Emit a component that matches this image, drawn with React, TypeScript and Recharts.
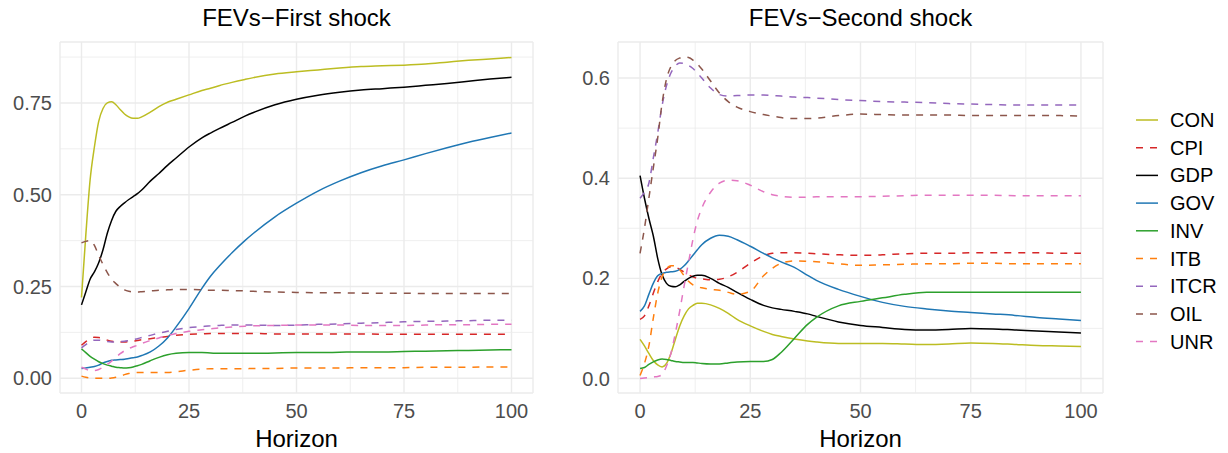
import React from "react";
import { LineChart, Line, XAxis, YAxis, CartesianGrid, ReferenceLine, Label } from "recharts";

const horizon = [0, 1, 2, 3, 4, 5, 6, 7, 8, 9, 10, 11, 12, 13, 14, 16, 18, 20, 22, 25, 28, 30, 32, 35, 38, 40, 45, 50, 55, 60, 65, 70, 75, 80, 85, 90, 95, 100];

const seriesNames = ["CON", "CPI", "GDP", "GOV", "INV", "ITB", "ITCR", "OIL", "UNR"];

// first shock
const con1 = [0.22, 0.39, 0.54, 0.63, 0.7, 0.735, 0.75, 0.753, 0.745, 0.732, 0.72, 0.712, 0.708, 0.708, 0.712, 0.725, 0.74, 0.752, 0.76, 0.772, 0.784, 0.79, 0.797, 0.806, 0.814, 0.819, 0.829, 0.835, 0.84, 0.845, 0.849, 0.851, 0.853, 0.856, 0.861, 0.866, 0.87, 0.874];
const cpi1 = [0.09, 0.1, 0.108, 0.112, 0.111, 0.108, 0.104, 0.101, 0.1, 0.099, 0.099, 0.1, 0.101, 0.103, 0.105, 0.108, 0.111, 0.114, 0.117, 0.12, 0.121, 0.122, 0.122, 0.122, 0.122, 0.122, 0.121, 0.121, 0.121, 0.121, 0.121, 0.12, 0.12, 0.12, 0.12, 0.12, 0.12, 0.12];
const gdp1 = [0.2, 0.235, 0.27, 0.29, 0.315, 0.35, 0.395, 0.43, 0.455, 0.468, 0.478, 0.487, 0.495, 0.503, 0.513, 0.537, 0.558, 0.58, 0.6, 0.63, 0.655, 0.668, 0.68, 0.697, 0.714, 0.724, 0.745, 0.76, 0.771, 0.779, 0.785, 0.789, 0.793, 0.798, 0.803, 0.809, 0.815, 0.82];
const gov1 = [0.027, 0.028, 0.03, 0.032, 0.036, 0.042, 0.046, 0.049, 0.05, 0.051, 0.052, 0.054, 0.056, 0.058, 0.062, 0.072, 0.088, 0.11, 0.14, 0.19, 0.245, 0.278, 0.305, 0.342, 0.375, 0.395, 0.44, 0.477, 0.51, 0.537, 0.56, 0.579, 0.595, 0.612, 0.628, 0.643, 0.656, 0.668];
const inv1 = [0.08, 0.07, 0.06, 0.052, 0.045, 0.04, 0.036, 0.033, 0.03, 0.029, 0.028, 0.029, 0.031, 0.034, 0.038, 0.048, 0.057, 0.064, 0.068, 0.07, 0.07, 0.069, 0.068, 0.068, 0.068, 0.068, 0.069, 0.07, 0.07, 0.071, 0.072, 0.072, 0.073, 0.074, 0.075, 0.076, 0.077, 0.078];
const itb1 = [0.006, 0.003, 0.001, 0.0, 0.0, 0.0, 0.0, 0.001, 0.003, 0.006, 0.01, 0.013, 0.015, 0.016, 0.016, 0.016, 0.016, 0.016, 0.018, 0.022, 0.025, 0.026, 0.026, 0.026, 0.026, 0.027, 0.027, 0.028, 0.028, 0.028, 0.029, 0.029, 0.029, 0.03, 0.03, 0.03, 0.031, 0.031];
const itcr1 = [0.083, 0.092, 0.1, 0.104, 0.104, 0.102, 0.1, 0.099, 0.099, 0.1, 0.101, 0.103, 0.105, 0.108, 0.111, 0.117, 0.123, 0.128, 0.133, 0.138, 0.141, 0.143, 0.144, 0.145, 0.145, 0.145, 0.144, 0.145, 0.147, 0.148, 0.15, 0.152, 0.154, 0.155, 0.156, 0.157, 0.158, 0.158];
const oil1 = [0.369, 0.373, 0.375, 0.362, 0.335, 0.31, 0.288, 0.27, 0.258, 0.248, 0.241, 0.237, 0.235, 0.235, 0.236, 0.238, 0.24, 0.241, 0.242, 0.242, 0.241, 0.24, 0.24, 0.239, 0.238, 0.237, 0.235, 0.234, 0.233, 0.233, 0.232, 0.232, 0.232, 0.231, 0.231, 0.231, 0.231, 0.231];
const unr1 = [0.03, 0.025, 0.021, 0.021, 0.024, 0.03, 0.038, 0.047, 0.057, 0.067, 0.075, 0.081, 0.086, 0.09, 0.095, 0.103, 0.11, 0.117, 0.122, 0.128, 0.132, 0.135, 0.137, 0.14, 0.142, 0.143, 0.144, 0.145, 0.145, 0.145, 0.144, 0.144, 0.144, 0.145, 0.146, 0.146, 0.147, 0.147];

// second shock
const con2 = [0.078, 0.065, 0.05, 0.036, 0.027, 0.023, 0.03, 0.05, 0.078, 0.105, 0.125, 0.139, 0.146, 0.15, 0.15, 0.147, 0.14, 0.13, 0.118, 0.105, 0.094, 0.088, 0.084, 0.079, 0.075, 0.073, 0.07, 0.07, 0.07, 0.069, 0.068, 0.069, 0.071, 0.07, 0.068, 0.066, 0.065, 0.064];
const cpi2 = [0.118, 0.125, 0.145, 0.17, 0.193, 0.21, 0.219, 0.223, 0.222, 0.218, 0.212, 0.207, 0.203, 0.2, 0.199, 0.197, 0.198, 0.203, 0.212, 0.23, 0.245, 0.25, 0.251, 0.251, 0.25, 0.249, 0.247, 0.246, 0.247, 0.249, 0.25, 0.25, 0.251, 0.251, 0.251, 0.251, 0.25, 0.25];
const gdp2 = [0.405, 0.36, 0.32, 0.285, 0.24, 0.207, 0.19, 0.184, 0.183, 0.187, 0.194, 0.2, 0.204, 0.206, 0.206, 0.2, 0.19, 0.182, 0.172, 0.158, 0.146, 0.141, 0.138, 0.134, 0.129, 0.124, 0.113, 0.106, 0.102, 0.098, 0.097, 0.098, 0.1, 0.099, 0.097, 0.095, 0.093, 0.091];
const gov2 = [0.134, 0.145, 0.168, 0.19, 0.205, 0.21, 0.212, 0.213, 0.214, 0.218, 0.225, 0.235, 0.246, 0.257, 0.267, 0.28, 0.286, 0.284, 0.277, 0.264, 0.25, 0.241, 0.233, 0.222, 0.206, 0.196, 0.178, 0.164, 0.152, 0.144, 0.139, 0.135, 0.132, 0.129, 0.126, 0.122, 0.119, 0.116];
const inv2 = [0.02, 0.022, 0.028, 0.033, 0.037, 0.039, 0.038, 0.036, 0.034, 0.033, 0.032, 0.032, 0.032, 0.031, 0.03, 0.029, 0.029, 0.031, 0.033, 0.034, 0.034, 0.038, 0.052, 0.08, 0.108, 0.122, 0.145, 0.154, 0.161, 0.168, 0.172, 0.172, 0.172, 0.172, 0.172, 0.172, 0.172, 0.172];
const itb2 = [0.006, 0.03, 0.065, 0.12, 0.17, 0.203, 0.219, 0.225, 0.225, 0.217, 0.205, 0.194, 0.187, 0.183, 0.181, 0.178, 0.176, 0.172, 0.168, 0.174, 0.205, 0.22, 0.23, 0.235, 0.234, 0.233, 0.229, 0.226, 0.227, 0.228, 0.229, 0.229, 0.23, 0.23, 0.229, 0.229, 0.229, 0.229];
const itcr2 = [0.36, 0.372, 0.39, 0.44, 0.49, 0.545, 0.585, 0.61, 0.624, 0.63, 0.629, 0.625, 0.619, 0.61, 0.6, 0.58, 0.567, 0.564, 0.565, 0.566, 0.566, 0.565, 0.564, 0.562, 0.561, 0.56, 0.557, 0.555, 0.553, 0.552, 0.551, 0.549, 0.548, 0.547, 0.546, 0.546, 0.546, 0.546];
const oil2 = [0.25, 0.3, 0.36, 0.42, 0.48, 0.55, 0.598, 0.623, 0.635, 0.64, 0.642, 0.641, 0.636, 0.628, 0.618, 0.594, 0.57, 0.553, 0.542, 0.533, 0.527, 0.524, 0.521, 0.519, 0.519, 0.52, 0.525, 0.528, 0.527, 0.526, 0.526, 0.526, 0.525, 0.525, 0.525, 0.525, 0.525, 0.524];
const unr2 = [0.0, 0.001, 0.002, 0.003, 0.004, 0.008, 0.025, 0.05, 0.09, 0.135, 0.185, 0.232, 0.278, 0.315, 0.34, 0.372, 0.39, 0.396, 0.395, 0.386, 0.373, 0.367, 0.364, 0.362, 0.362, 0.363, 0.363, 0.363, 0.364, 0.365, 0.366, 0.366, 0.366, 0.366, 0.365, 0.365, 0.365, 0.365];

const xTicks = [0, 25, 50, 75, 100];
const xMinor = [12.5, 37.5, 62.5, 87.5];
const yTicks1 = [0, 0.25, 0.5, 0.75];
const yMinor1 = [0.125, 0.375, 0.625, 0.875];
const yTicks2 = [0, 0.2, 0.4, 0.6];
const yMinor2 = [0.1, 0.3, 0.5];

const colors: Record<string, string> = {
  CON: "#BCBD22",
  CPI: "#D62728",
  GDP: "#000000",
  GOV: "#1F77B4",
  INV: "#2CA02C",
  ITB: "#FF7F0E",
  ITCR: "#9467BD",
  OIL: "#8C564B",
  UNR: "#E377C2",
};
const dashed = new Set(["CPI", "ITB", "ITCR", "OIL", "UNR"]);

const FONT = '"Liberation Sans", Arial, Helvetica, sans-serif';
const GRID = "#EBEBEB";

function buildRows(cols: number[][]) {
  return horizon.map((h, i) => {
    const row: Record<string, number> = { h };
    seriesNames.forEach((name, k) => {
      row[name] = cols[k][i];
    });
    return row;
  });
}

const firstRows = buildRows([con1, cpi1, gdp1, gov1, inv1, itb1, itcr1, oil1, unr1]);
const secondRows = buildRows([con2, cpi2, gdp2, gov2, inv2, itb2, itcr2, oil2, unr2]);

type PanelProps = {
  rows: Record<string, number>[];
  left: number;
  width: number;
  yAxisWidth: number;
  yDomain: [number, number];
  yTicks: number[];
  yMinor: number[];
  digits: number;
  title: string;
};

function Panel({ rows, left, width, yAxisWidth, yDomain, yTicks, yMinor, digits, title }: PanelProps) {
  const plotLeft = left + yAxisWidth;
  const plotRight = left + width - 7;
  return (
    <>
      <div
        style={{
          position: "absolute",
          left: plotLeft,
          width: plotRight - plotLeft,
          top: 3,
          textAlign: "center",
          fontSize: 24,
          fontFamily: FONT,
          color: "#000",
          lineHeight: "30px",
        }}
      >
        {title}
      </div>
      <div style={{ position: "absolute", left, top: 0 }}>
        <LineChart width={width} height={453} data={rows} margin={{ top: 42, right: 7, bottom: 0, left: 0 }}>
          <CartesianGrid stroke={GRID} strokeWidth={1.4} />
          {xMinor.map((v) => (
            <ReferenceLine key={"vx" + v} x={v} stroke={GRID} strokeWidth={0.8} />
          ))}
          {yMinor.map((v) => (
            <ReferenceLine key={"vy" + v} y={v} stroke={GRID} strokeWidth={0.8} />
          ))}
          <XAxis
            dataKey="h"
            type="number"
            domain={[-5, 105]}
            ticks={xTicks}
            interval={0}
            allowDataOverflow
            axisLine={false}
            tickLine={false}
            tickSize={0}
            tickMargin={11}
            height={60}
            tick={{ fill: "#4D4D4D", fontSize: 20, fontFamily: FONT }}
          >
            <Label value="Horizon" position="insideBottom" offset={6} fill="#000" fontSize={24} fontFamily={FONT} />
          </XAxis>
          <YAxis
            type="number"
            domain={yDomain}
            ticks={yTicks}
            interval={0}
            allowDataOverflow
            axisLine={false}
            tickLine={false}
            tickSize={0}
            tickMargin={8}
            width={yAxisWidth}
            tickFormatter={(v: number) => v.toFixed(digits)}
            tick={{ fill: "#4D4D4D", fontSize: 20, fontFamily: FONT }}
          />
          {seriesNames.map((name) => (
            <Line
              key={name}
              type="monotone"
              dataKey={name}
              stroke={colors[name]}
              strokeWidth={1.5}
              strokeDasharray={dashed.has(name) ? "7 7" : undefined}
              dot={false}
              activeDot={false}
              isAnimationActive={false}
            />
          ))}
        </LineChart>
      </div>
    </>
  );
}

function LegendBox() {
  return (
    <svg style={{ position: "absolute", left: 1125, top: 100 }} width={103} height={260}>
      {seriesNames.map((name, i) => {
        const y = 20 + i * 27.7;
        return (
          <g key={name}>
            <line
              x1={11}
              x2={33}
              y1={y}
              y2={y}
              stroke={colors[name]}
              strokeWidth={1.5}
              strokeDasharray={dashed.has(name) ? "7 7" : undefined}
            />
            <text x={45} y={y + 7} fontSize={20} fontFamily={FONT} fill="#000">
              {name}
            </text>
          </g>
        );
      })}
    </svg>
  );
}

export default function App() {
  return (
    <div style={{ position: "absolute", left: 0, top: 0, width: 1228, height: 453, background: "#fff", overflow: "hidden" }}>
      <Panel
        rows={firstRows}
        left={0}
        width={540}
        yAxisWidth={60}
        yDomain={[-0.04, 0.916]}
        yTicks={yTicks1}
        yMinor={yMinor1}
        digits={2}
        title={"FEVs\u2212First shock"}
      />
      <Panel
        rows={secondRows}
        left={540}
        width={570}
        yAxisWidth={78}
        yDomain={[-0.029, 0.672]}
        yTicks={yTicks2}
        yMinor={yMinor2}
        digits={1}
        title={"FEVs\u2212Second shock"}
      />
      <LegendBox />
    </div>
  );
}
